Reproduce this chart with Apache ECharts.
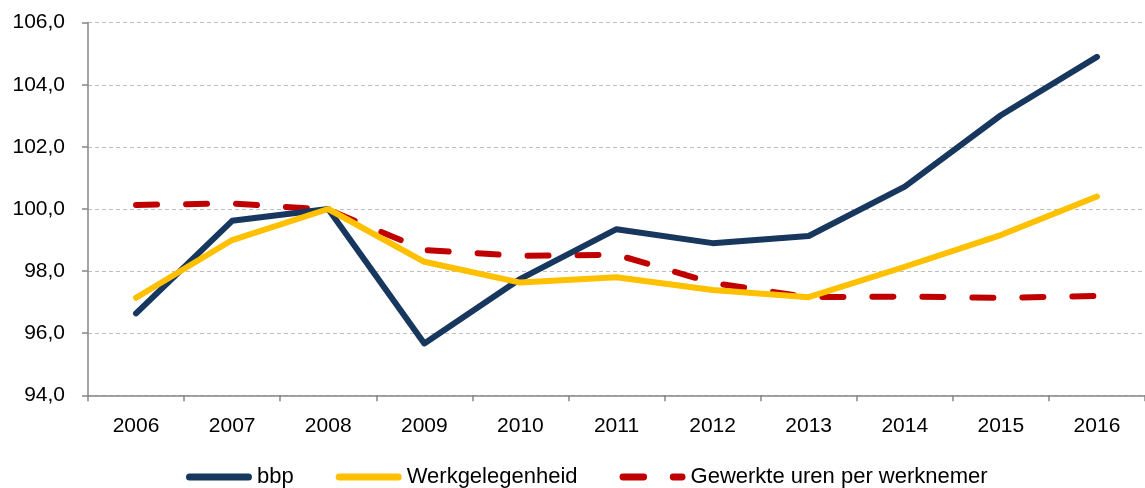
<!DOCTYPE html>
<html><head><meta charset="utf-8">
<script src="https://cdn.jsdelivr.net/npm/echarts@6/dist/echarts.min.js"></script>
<style>html,body{margin:0;padding:0;background:#fff}#c{width:1145px;height:488px}</style>
</head><body><div id="c"></div>
<script>
const years = ['2006','2007','2008','2009','2010','2011','2012','2013','2014','2015','2016'];
const bbp = [96.64, 99.62, 100.0, 95.67, 97.75, 99.35, 98.9, 99.13, 100.72, 103.02, 104.9];
const werkgelegenheid = [97.14, 99.0, 100.0, 98.3, 97.63, 97.8, 97.39, 97.16, 98.14, 99.16, 100.4];
const gewerkteUren = [100.13, 100.18, 99.98, 98.68, 98.49, 98.53, 97.62, 97.16, 97.18, 97.14, 97.2];
const seriesNames = ['bbp', 'Werkgelegenheid', 'Gewerkte uren per werknemer'];

const pill = 'path://M3.5,0 H62.5 A3.5,3.5 0 0 1 62.5,7 H3.5 A3.5,3.5 0 0 1 3.5,0 Z';
const dashDot = 'path://M3.5,0 H24.5 A3.5,3.5 0 0 1 24.5,7 H3.5 A3.5,3.5 0 0 1 3.5,0 Z M54.5,0 H63.5 A3.5,3.5 0 0 1 63.5,7 H54.5 A3.5,3.5 0 0 1 54.5,0 Z';

const chart = echarts.init(document.getElementById('c'), null, {renderer: 'canvas'});
chart.setOption({
  animation: false,
  grid: {left: 88, top: 22.7, width: 1063, height: 372.6, containLabel: false},
  legend: {
    left: 186, top: 466, itemGap: 42, itemWidth: 66, itemHeight: 7, padding: 0,
    textStyle: {fontFamily: 'Liberation Sans', fontSize: 22, color: '#000'},
    data: [
      {name: seriesNames[0], icon: pill},
      {name: seriesNames[1], icon: pill},
      {name: seriesNames[2], icon: dashDot}
    ]
  },
  xAxis: {
    type: 'category', data: years, boundaryGap: true,
    axisLine: {lineStyle: {color: '#868686', width: 1.5}},
    axisTick: {show: true, length: 6, lineStyle: {color: '#868686', width: 1.5}},
    axisLabel: {fontFamily: 'Liberation Sans', fontSize: 21, color: '#000', margin: 20}
  },
  yAxis: {
    type: 'value', min: 94, max: 106, interval: 2,
    axisLine: {show: true, lineStyle: {color: '#868686', width: 1.5}},
    axisTick: {show: true, length: 6, lineStyle: {color: '#868686', width: 1.5}},
    splitLine: {lineStyle: {color: '#bfbfbf', type: [4, 3], width: 1}},
    axisLabel: {fontFamily: 'Liberation Sans', fontSize: 21, color: '#000', margin: 23,
      formatter: v => v.toFixed(1).replace('.', ',')}
  },
  series: [
    {name: seriesNames[0], type: 'line', data: bbp, symbol: 'none',
     lineStyle: {color: '#17375e', width: 6, cap: 'round', join: 'round'}, itemStyle: {color: '#17375e'}},
    {name: seriesNames[1], type: 'line', data: werkgelegenheid, symbol: 'none',
     lineStyle: {color: '#ffc000', width: 6, cap: 'round', join: 'round'}, itemStyle: {color: '#ffc000'}},
    {name: seriesNames[2], type: 'line', data: gewerkteUren, symbol: 'none', z: 1,
     lineStyle: {color: '#c00000', width: 6, type: [21, 29], cap: 'round', join: 'round'}, itemStyle: {color: '#c00000'}}
  ]
});
</script></body></html>
